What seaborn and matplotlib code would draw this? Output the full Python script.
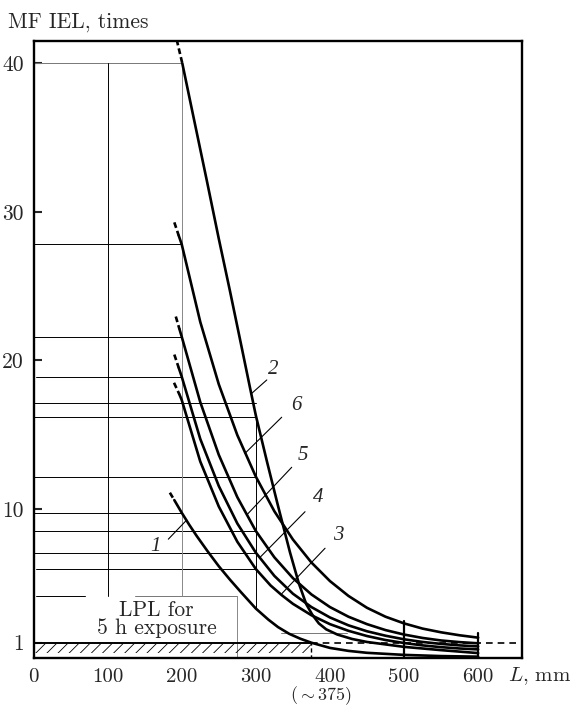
import pandas as pd
import matplotlib
matplotlib.use('Agg')
import matplotlib.pyplot as plt
import seaborn as sns

# Estilo base + fonte tipo Computer Modern
sns.set_style('white')
plt.rcParams['font.family'] = ['cmr10']
plt.rcParams['mathtext.fontset'] = 'cm'
plt.rcParams['axes.formatter.use_mathtext'] = True
plt.rcParams['hatch.linewidth'] = 0.6

# ---------------- dados ----------------
x_ticks = [0, 100, 200, 300, 400, 500, 600]
y_ticks = [1, 10, 20, 30, 40]

# curvas (parte sólida)
L1 = [190, 200, 210, 220, 235, 250, 265, 280, 300, 317, 330, 345, 360, 375, 400, 425, 450, 500, 550, 600]
V1 = [10.6, 9.75, 8.95, 8.2, 7.15, 6.15, 5.25, 4.4, 3.3, 2.55, 2.05, 1.6, 1.27, 1.0, 0.65, 0.45, 0.32, 0.18, 0.1, 0.06]
L2 = [200.8, 215, 233.7, 250, 265, 280, 292, 300, 315, 330, 346, 358, 368, 376, 385, 395, 410, 430, 450, 500, 550, 600]
V2 = [40, 36.6, 32.15, 28.2, 24.7, 21.1, 18.2, 16.3, 13.2, 10.2, 7.1, 5.0, 3.6, 2.9, 2.3, 1.9, 1.55, 1.25, 1.05, 0.72, 0.5, 0.3]
L3 = [197, 200, 225, 250, 275, 300, 320, 335, 350, 375, 400, 425, 450, 475, 500, 525, 550, 575, 600]
V3 = [17.7, 17.34, 13.2, 10.17, 7.8, 5.96, 4.85, 4.2, 3.62, 2.85, 2.25, 1.8, 1.45, 1.18, 0.98, 0.82, 0.7, 0.61, 0.55]
L4 = [196, 200, 225, 250, 275, 300, 325, 350, 375, 400, 425, 450, 475, 500, 525, 550, 575, 600]
V4 = [19.5, 18.91, 14.72, 11.55, 9.03, 7.06, 5.5, 4.3, 3.4, 2.7, 2.17, 1.77, 1.47, 1.23, 1.05, 0.92, 0.82, 0.75]
L5 = [197, 200, 225, 250, 275, 300, 325, 350, 375, 400, 425, 450, 475, 500, 525, 550, 575, 600]
V5 = [22.1, 21.6, 17.2, 13.65, 10.8, 8.52, 6.75, 5.35, 4.25, 3.4, 2.75, 2.25, 1.85, 1.55, 1.32, 1.15, 1.04, 0.96]
L6 = [196, 200, 225, 250, 275, 300, 325, 350, 375, 400, 425, 450, 475, 500, 525, 550, 575, 600]
V6 = [28.4, 27.82, 22.6, 18.4, 14.98, 12.18, 9.85, 7.95, 6.4, 5.15, 4.15, 3.35, 2.75, 2.3, 1.95, 1.7, 1.5, 1.34]

# início tracejado de cada curva
L_tr = {1: [184, 190], 2: [193.2, 200.8], 3: [189.6, 197], 4: [190, 196], 5: [192, 197], 6: [190, 196]}
V_tr = {1: [11.1, 10.6], 2: [41.6, 40], 3: [18.5, 17.7], 4: [20.4, 19.5], 5: [22.96, 22.1], 6: [29.3, 28.4]}

# linhas de leitura horizontais (valor, L inicial, L final)
h_val = [40, 27.82, 21.6, 18.91, 17.12, 16.18, 12.18, 9.75, 8.52, 7.06, 5.96, 4.15, 4.15, 1.66]
h_ini = [0, 0, 0, 3, 0, 0, 0, 0, 0, 0, 3, 3, 137, 334]
h_fim = [200, 200, 200, 200, 300, 300, 300, 200, 300, 300, 300, 70, 274, 423]

# rótulos das curvas: ponto na curva, fim do traço, posição do número
lab_id = ['1', '2', '3', '4', '5', '6']
lab_p0 = [(206.7, 9.26), (294.5, 17.79), (335, 4.3), (305.7, 6.75), (287.7, 9.6), (285.4, 13.75)]
lab_p1 = [(181.9, 7.97), (314.8, 18.69), (393.4, 7.36), (366.4, 9.82), (348.4, 12.81), (334.9, 16.18)]
lab_xy = [(164, 7.5), (323, 19.4), (411, 8.2), (384, 10.8), (364, 13.6), (355, 17.0)]

curvas = pd.DataFrame({
    'L': L1 + L2 + L3 + L4 + L5 + L6,
    'V': V1 + V2 + V3 + V4 + V5 + V6,
    'curva': ([1] * len(L1) + [2] * len(L2) + [3] * len(L3) +
              [4] * len(L4) + [5] * len(L5) + [6] * len(L6)),
})

# ---------------- figura ----------------
fig = plt.figure(figsize=(5.72, 7.09), dpi=100)
ax = fig.add_axes([0.0586, 0.0715, 0.8535, 0.8711])

# linhas de leitura
for v, a, b in zip(h_val, h_ini, h_fim):
    cor = '#777777' if v in (40, 1.66) or a == 137 else 'black'
    ax.plot([a, b], [v, v], color=cor, lw=0.7, zorder=1)

ax.plot([100, 100], [4.15, 40], color='black', lw=0.7, zorder=1)
ax.plot([200, 200], [4.15, 40], color='#888888', lw=0.7, zorder=1)
ax.plot([300, 300], [3.3, 16.3], color='black', lw=0.7, zorder=1)
ax.plot([274, 274], [-0.1, 4.15], color='#888888', lw=0.7, zorder=1)
ax.plot([375, 375], [-0.1, 1], color='black', lw=1.0, ls=(0, (3, 2)), zorder=1)
ax.plot([500, 500], [-0.1, 2.48], color='black', lw=1.6, zorder=3)
ax.plot([600, 600], [-0.1, 1.64], color='black', lw=1.6, zorder=3)

# nível LPL = 1 e faixa hachurada
ax.plot([0, 375], [1, 1], color='black', lw=1.4, zorder=2)
ax.plot([375, 660], [1, 1], color='black', lw=1.2, ls=(0, (4, 3)), zorder=2)
ax.fill_between([0, 375], 0.3, 0.92, hatch='///', facecolor='none',
                edgecolor='black', linewidth=0, zorder=1)

# curvas
for c, grupo in curvas.groupby('curva'):
    sns.lineplot(data=grupo, x='L', y='V', sort=False, estimator=None,
                 color='black', lw=1.9, ax=ax, zorder=4)
    ax.plot(L_tr[c], V_tr[c], color='black', lw=1.9, ls=(0, (2.2, 1.2)), zorder=4)

# rótulos das curvas
for t, p0, p1, pt in zip(lab_id, lab_p0, lab_p1, lab_xy):
    ax.plot([p0[0], p1[0]], [p0[1], p1[1]], color='black', lw=0.8, zorder=3)
    ax.text(pt[0], pt[1], t, fontsize=15, family='Liberation Serif', style='italic',
            ha='center', va='center')

ax.text(166, 2.6, 'LPL for\n5 h exposure', fontsize=15.5, ha='center', va='center',
        linespacing=0.9)

# eixos
ax.set_xlim(0, 658.8)
ax.set_ylim(-0.05, 41.53)
ax.set_xticks(x_ticks)
ax.set_xticklabels([str(t) for t in x_ticks])
ax.set_yticks(y_ticks)
ax.set_yticklabels([str(t) for t in y_ticks])
ax.tick_params(axis='x', length=0, pad=7, labelsize=15)
ax.tick_params(axis='y', direction='in', length=6, width=1.5, pad=7, labelsize=15.5, left=True)
ax.set_xlabel('')
ax.set_ylabel('')
for s in ax.spines.values():
    s.set_linewidth(1.7)
    s.set_color('black')

fig.text(8 / 572, 1 - 28 / 709, 'MF IEL, times', fontsize=15.5, ha='left', va='baseline')
fig.text(508 / 572, 1 - 676 / 709, r'$L$, mm', fontsize=15, ha='left', va='center')
fig.text(321 / 572, 1 - 696 / 709, r'(${\sim}$375)', fontsize=13, ha='center', va='center')

plt.savefig('out.png', dpi=100)
plt.close()
